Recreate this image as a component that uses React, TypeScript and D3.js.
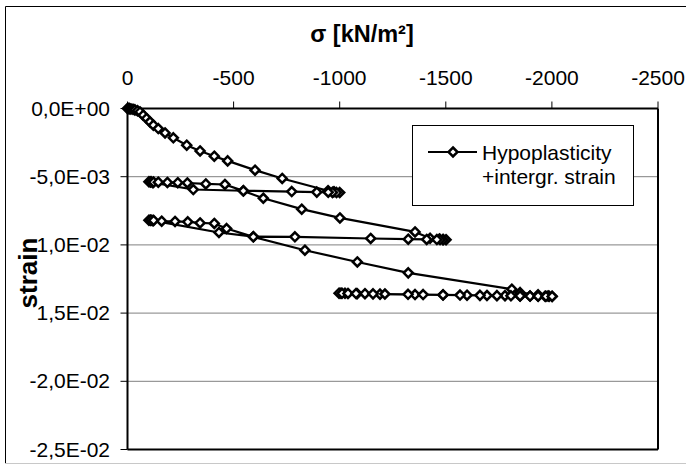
import React from 'react';
import * as d3 from 'd3';

// ---- axis ticks ----
const xTicks = [0, -500, -1000, -1500, -2000, -2500];
const xTickLabels = ['0', '-500', '-1000', '-1500', '-2000', '-2500'];
const yTicks = [0, -0.005, -0.01, -0.015, -0.02, -0.025];
const yTickLabels = ['0,0E+00', '-5,0E-03', '-1,0E-02', '-1,5E-02', '-2,0E-02', '-2,5E-02'];

// ---- series: Hypoplasticity + intergr. strain (one path, in load order) ----
const load1Stress = [0, -4, -9, -16, -26, -35, -47, -59, -74, -90, -106, -122, -145, -177, -216, -279, -342, -409, -472, -601, -729, -945, -973, -1000];
const load1Strain = [0, 0, -0.00001, -0.00003, -0.00006, -0.0001, -0.00016, -0.00025, -0.00049, -0.00073, -0.00098, -0.00122, -0.00147, -0.00179, -0.00215, -0.00269, -0.00311, -0.0035, -0.00384, -0.00452, -0.00513, -0.00603, -0.0061, -0.00616];

const unload1Stress = [-985, -966, -946, -892, -774, -546, -310, -120, -108, -101];
const unload1Strain = [-0.00616, -0.00615, -0.00614, -0.00613, -0.00609, -0.00603, -0.00594, -0.00544, -0.00539, -0.00537];

const reload1Stress = [-111, -123, -145, -188, -237, -282, -369, -459, -546, -640, -821, -1001, -1355, -1426, -1470, -1487, -1501];
const reload1Strain = [-0.00537, -0.00539, -0.0054, -0.00542, -0.00544, -0.00546, -0.00553, -0.00557, -0.00604, -0.00658, -0.00738, -0.00802, -0.00905, -0.00952, -0.00957, -0.0096, -0.00962];

const unload2Stress = [-1487, -1473, -1458, -1410, -1323, -1146, -789, -593, -431, -120, -108, -101];
const unload2Strain = [-0.00962, -0.00961, -0.00961, -0.0096, -0.00958, -0.00953, -0.00941, -0.0094, -0.00909, -0.00822, -0.0082, -0.00819];

const reload2Stress = [-111, -123, -161, -224, -284, -342, -409, -467, -593, -836, -1083, -1323, -1811, -1850, -1935, -1982, -2001];
const reload2Strain = [-0.00819, -0.00821, -0.00826, -0.00828, -0.00831, -0.00839, -0.00843, -0.0088, -0.00941, -0.01039, -0.01125, -0.01205, -0.01325, -0.0135, -0.01366, -0.01374, -0.01377];

const unload3Stress = [-1987, -1968, -1935, -1897, -1850, -1779, -1694, -1600, -1487, -1355, -1190, -1082, -1025, -1006, -997];
const unload3Strain = [-0.01377, -0.01376, -0.01375, -0.01375, -0.01374, -0.01372, -0.01371, -0.01369, -0.01367, -0.01364, -0.01361, -0.01358, -0.01355, -0.01355, -0.01354];

const reload3Stress = [-1011, -1039, -1077, -1119, -1157, -1213, -1322, -1393, -1487, -1567, -1661, -1741, -1807, -1850, -1897, -1935, -1972, -2001];
const reload3Strain = [-0.01355, -0.01356, -0.01357, -0.01358, -0.01359, -0.0136, -0.01362, -0.01364, -0.01366, -0.01368, -0.0137, -0.01372, -0.01373, -0.01374, -0.01375, -0.01376, -0.01377, -0.01378];

const stress = [...load1Stress, ...unload1Stress, ...reload1Stress, ...unload2Stress, ...reload2Stress, ...unload3Stress, ...reload3Stress];
const strain = [...load1Strain, ...unload1Strain, ...reload1Strain, ...unload2Strain, ...reload2Strain, ...unload3Strain, ...reload3Strain];

const seriesName = ['Hypoplasticity', '+intergr. strain'];
const xTitle = 'σ [kN/m²]';
const yTitle = 'strain';

const FONT = "'Liberation Sans', Arial, sans-serif";

const diamond = (r: number) => `M0,${-r}L${r},0L0,${r}L${-r},0Z`;

export default function App() {
  const W = 686, H = 468;
  const left = 127.5, right = 658, top = 108.5, bottom = 449.5;
  const x = d3.scaleLinear().domain([0, -2500]).range([left, right]);
  const y = d3.scaleLinear().domain([0, -0.025]).range([top, bottom]);
  const pts: [number, number][] = stress.map((s, i) => [s, strain[i]]);
  const line = d3.line<[number, number]>().x(d => x(d[0])).y(d => y(d[1]));

  const legX = 412, legY = 125, legW = 221, legH = 80;
  const mr = 4.5, mw = 2.5;

  return (
    <svg width={W} height={H} style={{ position: 'absolute', left: 0, top: 0, background: '#fff' }} fontFamily={FONT}>
      <rect x={0} y={0} width={W} height={H} fill="#fff" />
      {/* outer chart frame */}
      <line x1={5.5} y1={6.5} x2={W} y2={6.5} stroke="#000" strokeWidth={1} />
      <line x1={5.5} y1={6.5} x2={5.5} y2={463} stroke="#000" strokeWidth={1} />
      <line x1={5} y1={463.5} x2={W} y2={463.5} stroke="#c8c8c8" strokeWidth={1} />

      {/* gridlines */}
      {yTicks.slice(1, -1).map(t => (
        <line key={t} x1={left} x2={right} y1={y(t)} y2={y(t)} stroke="#808080" strokeWidth={1} />
      ))}

      {/* plot border / axes */}
      <line x1={right} x2={right} y1={top} y2={bottom} stroke="#000" strokeWidth={2} />
      <line x1={left} x2={right} y1={bottom} y2={bottom} stroke="#000" strokeWidth={2} />
      <line x1={left} x2={right} y1={top} y2={top} stroke="#000" strokeWidth={2} />
      <line x1={left} x2={left} y1={top} y2={bottom} stroke="#000" strokeWidth={2} />

      {/* x ticks (top) */}
      {xTicks.map((t, i) => (
        <g key={t}>
          <line x1={x(t)} x2={x(t)} y1={top} y2={top - 7} stroke="#000" strokeWidth={1} />
          <text x={x(t)} y={85} textAnchor="middle" fontSize={21}>{xTickLabels[i]}</text>
        </g>
      ))}
      {/* y ticks */}
      {yTicks.map((t, i) => (
        <g key={t}>
          <line x1={left} x2={left - 7} y1={y(t)} y2={y(t)} stroke="#000" strokeWidth={1} />
          <text x={110} y={y(t) + 7} textAnchor="end" fontSize={21}>{yTickLabels[i]}</text>
        </g>
      ))}

      {/* axis titles */}
      <text x={362} y={42} textAnchor="middle" fontSize={23.5} fontWeight="bold">{xTitle}</text>
      <g transform="translate(37,273) rotate(-90)">
        <rect x={-45} y={-19.5} width={90} height={20} fill="#fff" />
        <text x={0} y={0} textAnchor="middle" fontSize={26} fontWeight="bold">{yTitle}</text>
      </g>

      {/* series */}
      <path d={line(pts) || ''} fill="none" stroke="#000" strokeWidth={2.2} strokeLinejoin="round" />
      {pts.map((d, i) => (
        <path key={i} d={diamond(mr)} transform={`translate(${x(d[0])},${y(d[1])})`} fill="#fff" stroke="#000" strokeWidth={mw} />
      ))}

      {/* legend */}
      <rect x={legX + 0.5} y={legY + 0.5} width={legW} height={legH} fill="#fff" stroke="#000" strokeWidth={1} />
      <line x1={428} x2={477} y1={152} y2={152} stroke="#000" strokeWidth={2.2} />
      <path d={diamond(mr)} transform="translate(453,152)" fill="#fff" stroke="#000" strokeWidth={mw} />
      <text x={482} y={160} fontSize={21}>{seriesName[0]}</text>
      <text x={482} y={184} fontSize={21}>{seriesName[1]}</text>
    </svg>
  );
}
